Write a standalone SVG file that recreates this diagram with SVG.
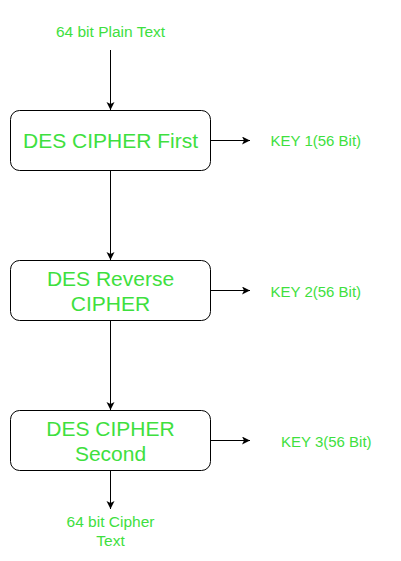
<svg xmlns="http://www.w3.org/2000/svg" width="401" height="561" viewBox="0 0 401 561">
<style>
.box{fill:#fff;stroke:#000;stroke-width:1}
.t{font-family:"Liberation Sans",Arial,sans-serif;fill:#3ee03e;text-anchor:middle}
.big{font-size:21px}
.sm{font-size:15.5px}
.key{font-size:15px;text-anchor:start}
.c{stroke:#000;stroke-width:1;fill:none;marker-end:url(#ah)}
</style>
<defs>
<marker id="ah" markerWidth="10" markerHeight="10" refX="8" refY="4" orient="auto" markerUnits="userSpaceOnUse">
<path d="M0,0 L8,4 L0,8 L2,4 Z" fill="#000"/>
</marker>
</defs>
<rect width="401" height="561" fill="#fff"/>
<g id="connectors">
<line class="c" x1="110.5" y1="50" x2="110.5" y2="110"/>
<line class="c" x1="110.5" y1="170.5" x2="110.5" y2="260"/>
<line class="c" x1="110.5" y1="320.5" x2="110.5" y2="410"/>
<line class="c" x1="110.5" y1="470.5" x2="110.5" y2="509"/>
<line class="c" x1="210.5" y1="140.5" x2="250" y2="140.5"/>
<line class="c" x1="210.5" y1="290.5" x2="250" y2="290.5"/>
<line class="c" x1="210.5" y1="440.5" x2="250" y2="440.5"/>
</g>
<g id="plain">
<text class="t sm" x="110.5" y="37">64 bit Plain Text</text>
</g>
<g id="des1">
<rect class="box" x="10.5" y="110.5" width="200" height="60" rx="9"/>
<text class="t big" x="110.5" y="148">DES CIPHER First</text>
</g>
<g id="des2">
<rect class="box" x="10.5" y="260.5" width="200" height="60" rx="9"/>
<text class="t big" x="110.5" y="285.5">DES Reverse</text>
<text class="t big" x="110.5" y="310.5">CIPHER</text>
</g>
<g id="des3">
<rect class="box" x="10.5" y="410.5" width="200" height="60" rx="9"/>
<text class="t big" x="110.5" y="435.5">DES CIPHER</text>
<text class="t big" x="110.5" y="460.5">Second</text>
</g>
<g id="key1"><text class="t key" x="270.5" y="146">KEY 1(56 Bit)</text></g>
<g id="key2"><text class="t key" x="270.5" y="296.5">KEY 2(56 Bit)</text></g>
<g id="key3"><text class="t key" x="281" y="446.5">KEY 3(56 Bit)</text></g>
<g id="cipher">
<text class="t sm" x="110.5" y="527">64 bit Cipher</text>
<text class="t sm" x="110.5" y="545.5">Text</text>
</g>
</svg>
